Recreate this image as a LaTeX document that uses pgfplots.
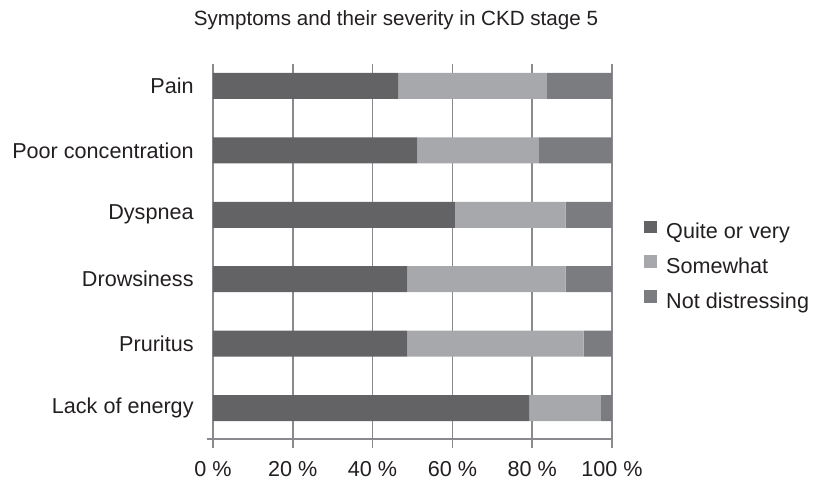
\documentclass[border=0pt]{standalone}
\usepackage{fontspec}
\setmainfont{Liberation Sans}
\usepackage{pgfplots}
\pgfplotsset{compat=1.18}
\definecolor{cdark}{HTML}{636365}
\definecolor{clight}{HTML}{A7A8AB}
\definecolor{cmid}{HTML}{7B7C80}
\definecolor{cgrid}{HTML}{8A8A8E}
\definecolor{ctext}{HTML}{231F20}
\begin{document}
\begin{tikzpicture}
\path[use as bounding box] (-106.5pt,-21pt) rectangle (303.5pt,219.5pt);
\begin{axis}[
  at={(0,0)}, anchor=south west,
  scale only axis, width=199.5pt, height=187.5pt,
  xbar stacked, bar width=13pt,
  xmin=0, xmax=100, ymin=-0.48, ymax=5.34,
  axis x line=bottom, axis y line=left,
  axis line style={cgrid, line width=0.85pt, -},
  x axis line style={shorten <=-3pt},
  tick align=outside, major tick length=4.5pt,
  xtick={0,20,...,100}, xticklabels={0 \%,20 \%,40 \%,60 \%,80 \%,100 \%},
  ytick={0,...,5}, yticklabels={Lack of energy, Pruritus, Drowsiness, Dyspnea, Poor concentration, Pain},
  xmajorgrids, grid style={cgrid, line width=0.85pt},
  x tick style={cgrid, line width=0.85pt},
  ytick style={draw=none},
  tick label style={font=\fontsize{10.8}{12}\selectfont, text=ctext},
  yticklabel style={inner sep=0pt, anchor=east, xshift=-5pt},
  xticklabel style={inner sep=0pt, anchor=north, yshift=-6.5pt},
  title={Symptoms and their severity in CKD stage 5},
  every axis title/.style={at={(0.4586,1)}, anchor=base, yshift=19pt, font=\fontsize{10.3}{12}\selectfont, text=ctext},
  legend style={draw=none, fill=none, at={(1,0.459)}, anchor=west, xshift=16pt, inner sep=0pt,
    row sep=6pt, column sep=4.5pt,
    nodes={inner sep=0pt, text height=7.7pt, text depth=2.3pt, font=\fontsize{10.8}{12}\selectfont, text=ctext}},
  legend cell align=left,
  legend image code/.code={\fill[#1] (0pt,0pt) rectangle (6.4pt,6.4pt);},
]
\addplot[fill=cdark, draw=none] coordinates {(79.2,0) (48.7,1) (48.7,2) (60.6,3) (51.2,4) (46.4,5)};
\addplot[fill=clight, draw=none] coordinates {(18.0,0) (44.2,1) (39.7,2) (27.8,3) (30.5,4) (37.3,5)};
\addplot[fill=cmid, draw=none] coordinates {(2.8,0) (7.1,1) (11.6,2) (11.6,3) (18.3,4) (16.3,5)};
\legend{Quite or very, Somewhat, Not distressing}
\end{axis}
\end{tikzpicture}
\end{document}
